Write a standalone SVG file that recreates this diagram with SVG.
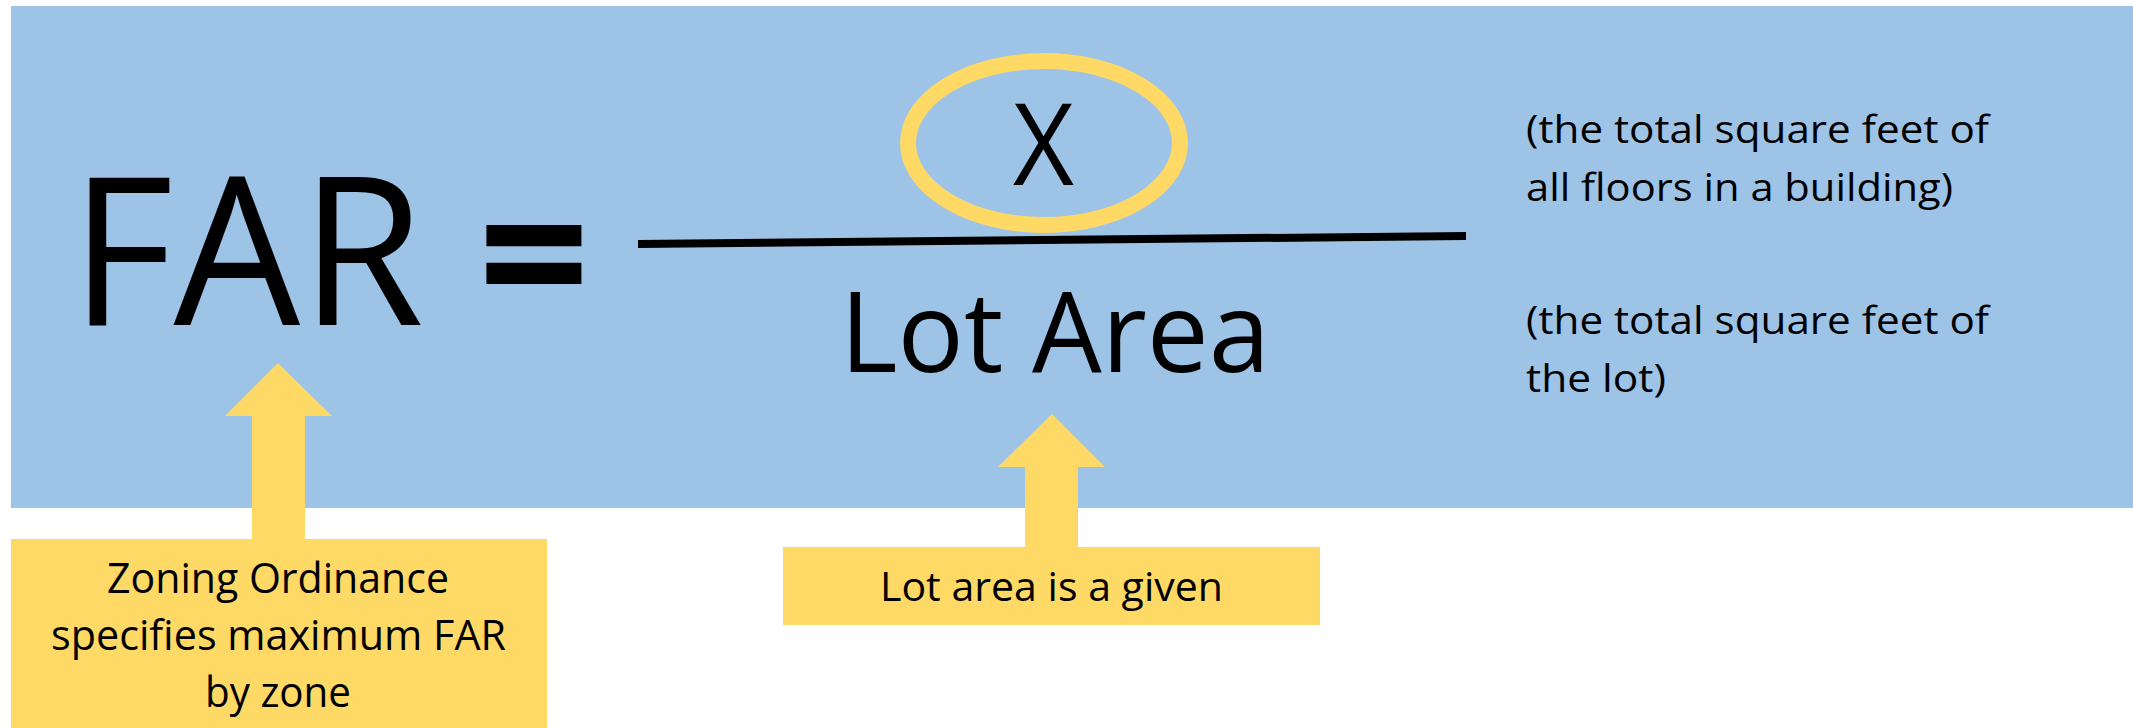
<svg xmlns="http://www.w3.org/2000/svg" width="2133" height="728" viewBox="0 0 2133 728">
<style>
.t{font-family:"Open Sans","Noto Sans","Liberation Sans",sans-serif;fill:#000}
.y{fill:#FFD966}
</style>
<rect x="0" y="0" width="2133" height="728" fill="#FFFFFF"/>
<g id="formula-panel">
<rect x="11" y="6" width="2122" height="502" fill="#9DC3E6"/>
</g>
<g id="far">
<text class="t" x="70" y="325" font-size="207" textLength="354" lengthAdjust="spacingAndGlyphs">FAR</text>
<text class="t" x="478" y="325" font-size="200" font-weight="bold" textLength="112" lengthAdjust="spacingAndGlyphs">=</text>
</g>
<g id="numerator">
<ellipse cx="1044" cy="143" rx="136" ry="82" fill="none" stroke="#FFD966" stroke-width="16"/>
<text class="t" x="1013" y="185" font-size="113" textLength="61" lengthAdjust="spacingAndGlyphs">X</text>
</g>
<g id="fraction-bar">
<line x1="638" y1="244" x2="1466" y2="236" stroke="#000" stroke-width="8"/>
</g>
<g id="denominator">
<text class="t" x="840" y="372" font-size="112" textLength="430" lengthAdjust="spacingAndGlyphs">Lot Area</text>
</g>
<g id="numerator-note">
<text class="t" x="1526" y="143" font-size="38" textLength="463" lengthAdjust="spacingAndGlyphs">(the total square feet of</text>
<text class="t" x="1526" y="201" font-size="38" textLength="427" lengthAdjust="spacingAndGlyphs">all floors in a building)</text>
</g>
<g id="denominator-note">
<text class="t" x="1526" y="334" font-size="38" textLength="463" lengthAdjust="spacingAndGlyphs">(the total square feet of</text>
<text class="t" x="1526" y="392" font-size="38" textLength="140" lengthAdjust="spacingAndGlyphs">the lot)</text>
</g>
<g id="connectors">
<polygon class="y" points="278,363 332,416 305,416 305,540 252,540 252,416 225,416"/>
<polygon class="y" points="1052,414 1105,467 1078,467 1078,548 1025,548 1025,467 998,467"/>
</g>
<g id="zoning-box">
<rect class="y" x="11" y="539" width="536" height="189"/>
<text class="t" x="107" y="593" font-size="42" textLength="342" lengthAdjust="spacingAndGlyphs">Zoning Ordinance</text>
<text class="t" x="51" y="650" font-size="42" textLength="455" lengthAdjust="spacingAndGlyphs">specifies maximum FAR</text>
<text class="t" x="205" y="707" font-size="42" textLength="146" lengthAdjust="spacingAndGlyphs">by zone</text>
</g>
<g id="lot-box">
<rect class="y" x="783" y="547" width="537" height="78"/>
<text class="t" x="880" y="601" font-size="41" textLength="343" lengthAdjust="spacingAndGlyphs">Lot area is a given</text>
</g>
</svg>
